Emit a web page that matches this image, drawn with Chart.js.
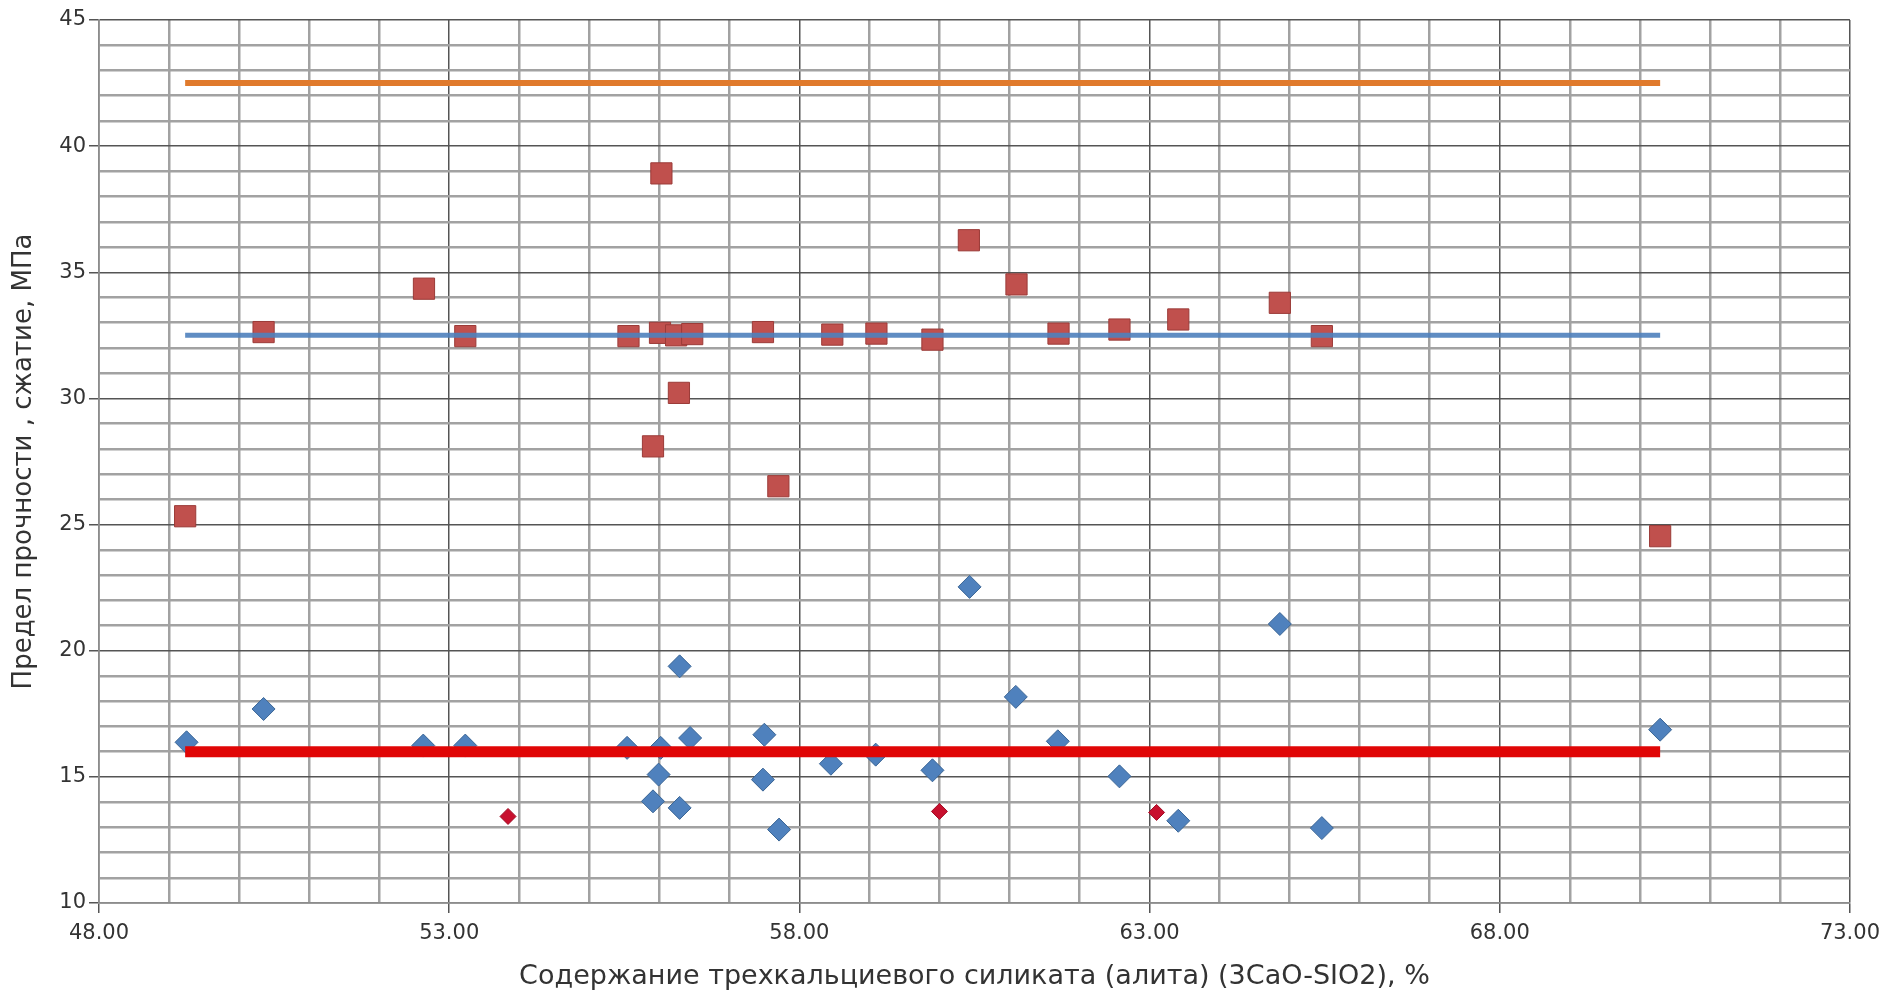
<!DOCTYPE html>
<html>
<head>
<meta charset="utf-8">
<script src="https://cdn.jsdelivr.net/npm/chart.js@4/dist/chart.umd.min.js"></script>
<style>
  html, body { margin: 0; padding: 0; background: #fff; }
  #wrap { width: 1888px; height: 995px; }
</style>
</head>
<body>
<div id="wrap"><canvas id="chart" width="1888" height="995"></canvas></div>
<script>
// upper series (squares)
var upperX = [49.23, 50.35, 52.64, 53.23, 55.56, 55.91, 56.01, 56.03, 56.24, 56.28, 56.47, 57.48,
              57.70, 58.47, 59.10, 59.90, 60.42, 61.10, 61.70, 62.57, 63.41, 64.86, 65.46, 70.29];
var upperY = [25.33, 32.63, 34.35, 32.47, 32.47, 28.10, 32.60, 38.92, 32.50, 30.22, 32.55, 32.63,
              26.52, 32.53, 32.57, 32.33, 36.27, 34.52, 32.57, 32.73, 33.13, 33.79, 32.47, 24.54];
// lower series (blue diamonds)
var lowerX = [49.25, 50.35, 52.63, 53.23, 55.54, 55.91, 55.99, 56.02, 56.29, 56.29, 56.44, 57.48, 57.50,
              57.71, 58.45, 59.09, 59.90, 60.43, 61.09, 61.69, 62.57, 63.41, 64.86, 65.46, 70.29];
var lowerY = [16.37, 17.69, 16.24, 16.24, 16.15, 14.03, 15.09, 16.15, 13.77, 19.38, 16.54, 14.89, 16.67,
              12.91, 15.52, 15.88, 15.26, 22.53, 18.17, 16.41, 15.02, 13.26, 21.06, 12.97, 16.87];
// small red diamonds
var minX = [53.84, 60.00, 63.10];
var minY = [13.43, 13.63, 13.59];
// horizontal levels
var levelX = [49.23, 70.29];
var levelTop = 42.5;
var levelMid = 32.5;
var levelLow = 16;

var xTitle = 'Содержание трехкальциевого силиката (алита) (3CaO-SIO2), %';
var yTitle = 'Предел прочности , сжатие, МПа';

function pts(xs, ys) {
  return xs.map(function (x, i) { return {x: x, y: ys[i]}; });
}
function level(v) {
  return levelX.map(function (x) { return {x: x, y: v}; });
}

var minorGrid = '#a2a2a2';
var majorGrid = '#555555';
var textColor = '#333333';

var ctx = document.getElementById('chart');
new Chart(ctx, {
  type: 'scatter',
  data: {
    datasets: [
      {
        label: 'top', data: level(levelTop), showLine: true, order: 0,
        borderColor: '#e07a2c', borderWidth: 6, pointRadius: 0, borderCapStyle: 'butt'
      },
      {
        label: 'mid', data: level(levelMid), showLine: true, order: 0,
        borderColor: 'rgba(79,129,189,0.9)', borderWidth: 5, pointRadius: 0, borderCapStyle: 'butt'
      },
      {
        label: 'low', data: level(levelLow), showLine: true, order: 0,
        borderColor: '#e00606', borderWidth: 11, pointRadius: 0, borderCapStyle: 'butt'
      },
      {
        label: 'upper', data: pts(upperX, upperY), order: 1,
        pointStyle: 'rect', pointRadius: 15, pointHoverRadius: 15,
        backgroundColor: '#c0504d', borderColor: '#9b3b38', borderWidth: 1
      },
      {
        label: 'lower', data: pts(lowerX, lowerY), order: 2,
        pointStyle: 'rectRot', pointRadius: 11.5, pointHoverRadius: 11.5,
        backgroundColor: '#4f81bd', borderColor: '#3a6595', borderWidth: 1
      },
      {
        label: 'min', data: pts(minX, minY), order: 1,
        pointStyle: 'rectRot', pointRadius: 8, pointHoverRadius: 8,
        backgroundColor: '#c8102e', borderColor: '#a00c24', borderWidth: 1
      }
    ]
  },
  options: {
    responsive: false,
    animation: false,
    layout: { padding: { top: 20, right: 38, left: 0, bottom: 0 } },
    plugins: { legend: { display: false }, tooltip: { enabled: false } },
    scales: {
      x: {
        type: 'linear', min: 48, max: 73,
        afterFit: function (s) { s.height = 92; },
        ticks: {
          stepSize: 1, autoSkip: false, maxRotation: 0, padding: 8, color: textColor,
          font: { family: 'DejaVu Sans', size: 21 },
          callback: function (v) { return (v - 48) % 5 === 0 ? v.toFixed(2) : ''; }
        },
        grid: {
          tickLength: 10, lineWidth: function (c) { return (c.tick.value - 48) % 5 === 0 ? 1.5 : 2.5; },
          color: function (c) { return (c.tick.value - 48) % 5 === 0 ? majorGrid : minorGrid; },
          tickColor: function (c) { return (c.tick.value - 48) % 5 === 0 ? majorGrid : 'rgba(0,0,0,0)'; }
        },
        border: { color: '#8c8c8c', width: 1.5 },
        title: {
          display: true, text: xTitle, color: textColor,
          font: { family: 'DejaVu Sans', size: 27 }, padding: { top: 2, bottom: 2 }
        }
      },
      y: {
        type: 'linear', min: 10, max: 45,
        afterFit: function (s) { s.width = 99; },
        ticks: {
          stepSize: 1, autoSkip: false, padding: 3, color: textColor,
          font: { family: 'DejaVu Sans', size: 21 },
          callback: function (v) { return v % 5 === 0 ? String(v) : ''; }
        },
        grid: {
          tickLength: 10, lineWidth: function (c) { return c.tick.value % 5 === 0 ? 1.5 : 2.5; },
          color: function (c) { return c.tick.value % 5 === 0 ? majorGrid : minorGrid; },
          tickColor: function (c) { return c.tick.value % 5 === 0 ? majorGrid : 'rgba(0,0,0,0)'; }
        },
        border: { color: '#8c8c8c', width: 1.5 },
        title: {
          display: true, text: yTitle, color: textColor,
          font: { family: 'DejaVu Sans', size: 26 }, padding: { top: 9, bottom: 9 }
        }
      }
    }
  }
});
</script>
</body>
</html>
